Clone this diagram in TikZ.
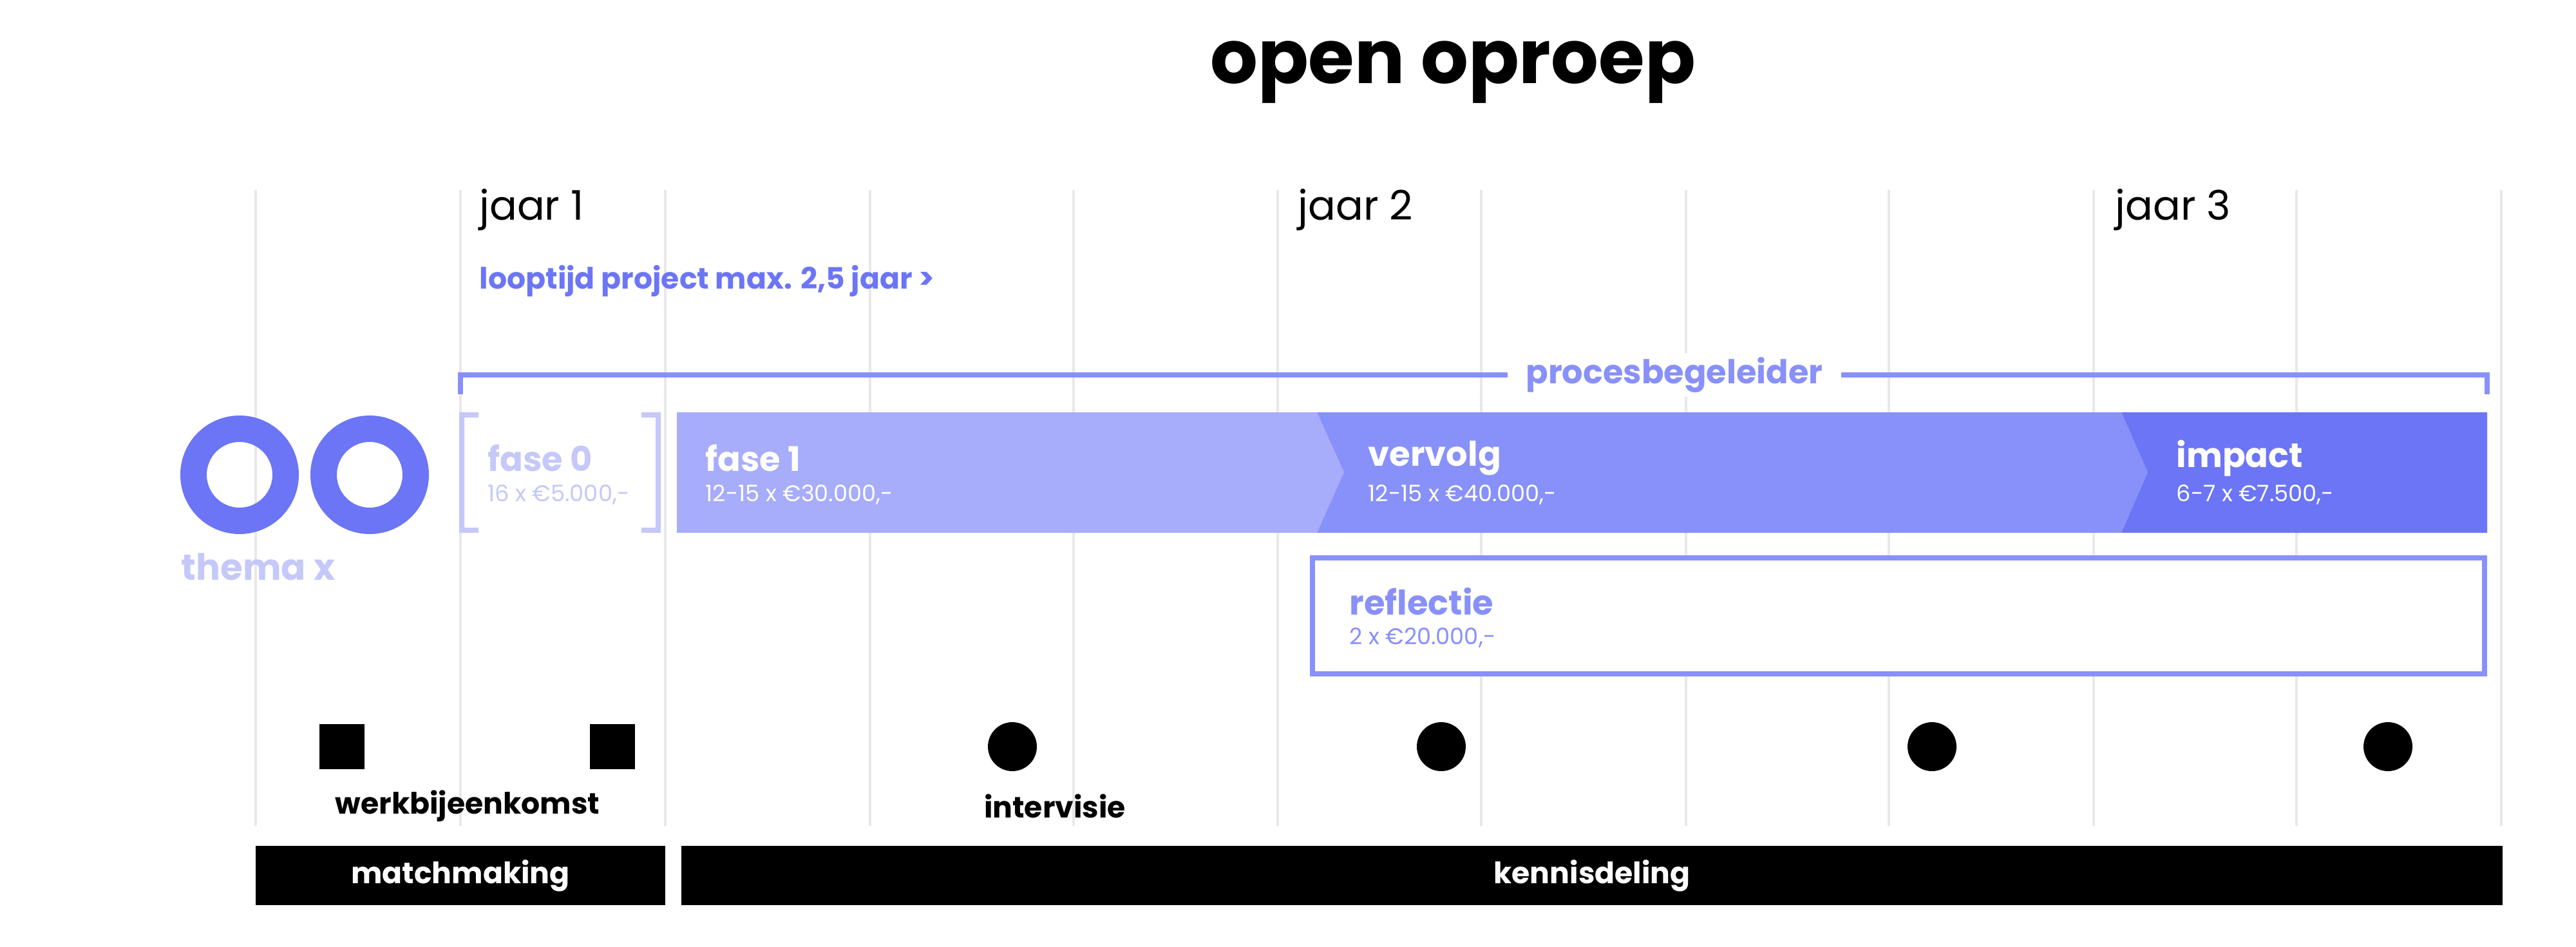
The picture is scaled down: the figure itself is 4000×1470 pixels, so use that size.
\documentclass[tikz,border=0pt]{standalone}
\usepackage{fontspec}
\setmainfont{Poppins}
\usetikzlibrary{positioning}
\definecolor{lichtpaars}{HTML}{C5C8F8}
\definecolor{fasepaars}{HTML}{A7ACFB}
\definecolor{middenpaars}{HTML}{8890F9}
\definecolor{donkerpaars}{HTML}{6B75F5}
\definecolor{rasterlijn}{HTML}{E8E8EC}
\tikzset{
  titel/.style={anchor=west, inner sep=0pt, font=\fontsize{15}{18}\selectfont\bfseries, text=white},
  bedrag/.style={anchor=west, inner sep=0pt, font=\fontsize{10}{12}\selectfont, text=white},
  jaartal/.style={anchor=west, inner sep=0pt, font=\fontsize{18}{22}\selectfont},
  onderschrift/.style={inner sep=0pt, font=\fontsize{13}{15}\selectfont\bfseries},
  balk/.style={fill=black, text=white, font=\fontsize{13}{15}\selectfont\bfseries, inner sep=0pt}
}
\begin{document}
\begin{tikzpicture}[x=0.01cm, y=-0.01cm]
\useasboundingbox (0,0) rectangle (4000,1470);
% raster
\foreach \x in {397,715,1033,1351,1667,1984,2300,2618,2933,3251,3566,3884}
  \draw [rasterlijn, line width=1.2pt] (\x,295) -- (\x,1282);
% titel en jaren
\node [font=\fontsize{33}{40}\selectfont\bfseries, inner sep=0pt] (titel) at (2256,112) {open oproep};
\node [jaartal] (jaar1) at (744,326) {jaar 1};
\node [jaartal] (jaar2) at (2015,326) {jaar 2};
\node [jaartal] (jaar3) at (3284,326) {jaar 3};
\node [anchor=west, inner sep=0pt, text=donkerpaars, font=\fontsize{13}{15}\selectfont\bfseries] (looptijd) at (744,436) {looptijd project max. 2,5 jaar \textgreater};
% procesbegeleider
\coordinate (pbl) at (715,612);
\coordinate (pbr) at (3862,612);
\draw [middenpaars, line width=2.2pt] (pbl) -- (715,582) -- (3862,582) -- (pbr);
\node [fill=white, inner xsep=8pt, inner ysep=2pt, text=middenpaars, font=\fontsize{14.5}{16}\selectfont\bfseries] (begeleider) at (2600,582) {procesbegeleider};
% logo
\fill [donkerpaars, even odd rule] (372,737) circle (92) (372,737) circle (51);
\fill [donkerpaars, even odd rule] (574,737) circle (92) (574,737) circle (51);
\node [text=lichtpaars, font=\fontsize{16}{18}\selectfont\bfseries, inner sep=0pt] (thema) at (401,880) {thema x};
% fase 0
\fill [lichtpaars] (713,640) rectangle (721,827) (713,640) rectangle (743,648) (713,819) rectangle (743,827);
\fill [lichtpaars] (1018,640) rectangle (1026,827) (996,640) rectangle (1026,648) (996,819) rectangle (1026,827);
\node [titel, text=lichtpaars] (fase0) at (757,711) {fase 0};
\node [bedrag, text=lichtpaars] (fase0b) at (757,768) {16 x €5.000,-};
% fasen
\fill [fasepaars] (1051,640) -- (2045,640) -- (2087,733) -- (2045,827) -- (1051,827) -- cycle;
\fill [middenpaars] (2045,640) -- (3294,640) -- (3335,733) -- (3294,827) -- (2045,827) -- (2087,733) -- cycle;
\fill [donkerpaars] (3294,640) -- (3862,640) -- (3862,827) -- (3294,827) -- (3335,733) -- cycle;
\node [titel] (fase1) at (1095,711) {fase 1};
\node [bedrag] (fase1b) at (1095,768) {12-15 x €30.000,-};
\node [titel] (vervolg) at (2124,711) {vervolg};
\node [bedrag] (vervolgb) at (2124,768) {12-15 x €40.000,-};
\node [titel] (impact) at (3379,711) {impact};
\node [bedrag] (impactb) at (3379,768) {6-7 x €7.500,-};
% reflectie
\draw [middenpaars, line width=2.3pt, fill=white] (2038,866) rectangle (3858,1046);
\node [titel, text=middenpaars] (reflectie) at (2095,934) {reflectie};
\node [bedrag, text=middenpaars] (reflectieb) at (2095,990) {2 x €20.000,-};
% bijeenkomsten
\fill (496,1124) rectangle (566,1194);
\fill (916,1124) rectangle (986,1194);
\foreach \x in {1572,2238,3000,3708}
  \fill (\x,1159) circle (38);
\node [onderschrift] (werk) at (726,1251) {werkbijeenkomst};
\node [onderschrift] (intervisie) at (1638,1251) {intervisie};
% balken
\node [balk, minimum width=6.36cm, minimum height=0.92cm] (match) at (715,1359) {matchmaking};
\node [balk, minimum width=28.26cm, minimum height=0.92cm] (kennis) at (2472,1359) {kennisdeling};
\end{tikzpicture}
\end{document}
